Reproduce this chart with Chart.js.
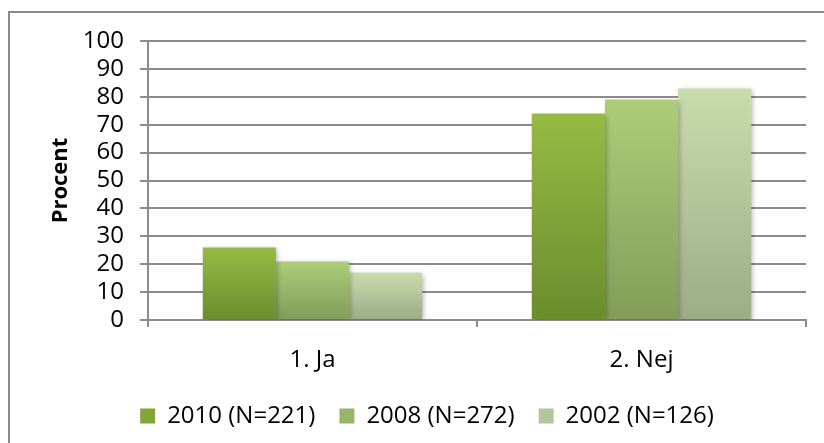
<!DOCTYPE html>
<html>
<head>
<meta charset="utf-8">
<script src="https://cdn.jsdelivr.net/npm/chart.js@4"></script>
<style>
  html, body { margin: 0; padding: 0; background: #FFFFFF; }
  #wrap { width: 824px; height: 443px; }
</style>
</head>
<body>
<div id="wrap"><canvas id="barChart" width="824" height="443"></canvas></div>
<script>
// Data
const categories = ['1. Ja', '2. Nej'];
const seriesNames = ['2010 (N=221)', '2008 (N=272)', '2002 (N=126)'];
const values2010 = [26, 74];
const values2008 = [21, 79];
const values2002 = [17, 83];
const yMin = 0;
const yMax = 100;
const yStep = 10;

// Excel-like green palette (top / bottom of each bar gradient)
const SERIES_TOP = ['#95BB44', '#ADCD7A', '#CADCAD'];
const SERIES_BOTTOM = ['#6A8D2D', '#819D58', '#9BAC87'];
const SERIES_SOLID = ['#80A639', '#97B668', '#B3C59A'];
const GRID_COLOR = '#8C8C8C';
const FONT = 'Open Sans';

// Vertical gradient running over each bar's own height
function barGradient(i) {
    return function (ctx) {
        const chart = ctx.chart;
        if (!chart.chartArea || ctx.type !== 'data' || !chart.scales.y) return SERIES_SOLID[i];
        const yScale = chart.scales.y;
        const yTop = yScale.getPixelForValue(ctx.raw);
        const yBase = yScale.getPixelForValue(0);
        const g = chart.ctx.createLinearGradient(0, yTop, 0, yBase);
        g.addColorStop(0, SERIES_TOP[i]);
        g.addColorStop(1, SERIES_BOTTOM[i]);
        return g;
    };
}

// Outer frame like the Excel chart border
const framePlugin = {
    id: 'frame',
    afterDraw(chart) {
        const c = chart.ctx;
        c.save();
        c.strokeStyle = '#898989';
        c.lineWidth = 2;
        c.strokeRect(9, 12, 1000, 1000);
        c.restore();
    }
};

// Soft drop shadow behind the bars
const shadowPlugin = {
    id: 'barShadow',
    beforeDatasetsDraw(chart) {
        const c = chart.ctx;
        c.save();
        c.shadowColor = 'rgba(0, 0, 0, 0.28)';
        c.shadowBlur = 5;
        c.shadowOffsetX = 2;
        c.shadowOffsetY = 2;
    },
    afterDatasetsDraw(chart) {
        chart.ctx.restore();
    }
};

const allValues = [values2010, values2008, values2002];

const ctx = document.getElementById('barChart').getContext('2d');
new Chart(ctx, {
    type: 'bar',
    data: {
        labels: categories,
        datasets: seriesNames.map((name, i) => ({
            label: name,
            data: allValues[i],
            backgroundColor: barGradient(i),
            borderWidth: 0,
            categoryPercentage: 0.667,
            barPercentage: 1.0
        }))
    },
    options: {
        responsive: false,
        animation: false,
        layout: { padding: { left: 48, right: 18, top: 41, bottom: 5 } },
        plugins: {
            legend: {
                position: 'bottom',
                maxHeight: 65,
                labels: {
                    font: { family: FONT, size: 24 },
                    color: '#000000',
                    boxWidth: 15,
                    boxHeight: 15,
                    padding: 24,
                    generateLabels: function (chart) {
                        return chart.data.datasets.map((ds, i) => ({
                            text: ds.label,
                            fillStyle: SERIES_SOLID[i],
                            strokeStyle: SERIES_SOLID[i],
                            lineWidth: 0,
                            datasetIndex: i,
                            fontColor: '#000000'
                        }));
                    }
                }
            },
            tooltip: { enabled: false }
        },
        scales: {
            x: {
                offset: true,
                grid: {
                    offset: true,
                    drawOnChartArea: false,
                    color: GRID_COLOR,
                    lineWidth: 2,
                    tickLength: 7
                },
                border: { color: GRID_COLOR, width: 2 },
                ticks: { font: { family: FONT, size: 24 }, color: '#000000', padding: 19 },
                afterFit(scale) { scale.height = 60; }
            },
            y: {
                min: yMin,
                max: yMax,
                grid: { color: GRID_COLOR, lineWidth: 2, tickLength: 8 },
                border: { color: GRID_COLOR, width: 2 },
                ticks: {
                    stepSize: yStep,
                    autoSkip: false,
                    font: { family: FONT, size: 24 },
                    color: '#000000',
                    padding: 16
                },
                title: {
                    display: true,
                    text: 'Procent',
                    font: { family: FONT, size: 22, weight: 'bold' },
                    color: '#000000',
                    padding: { top: 0, bottom: 0 }
                },
                afterFit(scale) { scale.width = 100; }
            }
        }
    },
    plugins: [framePlugin, shadowPlugin]
});
</script>
</body>
</html>
